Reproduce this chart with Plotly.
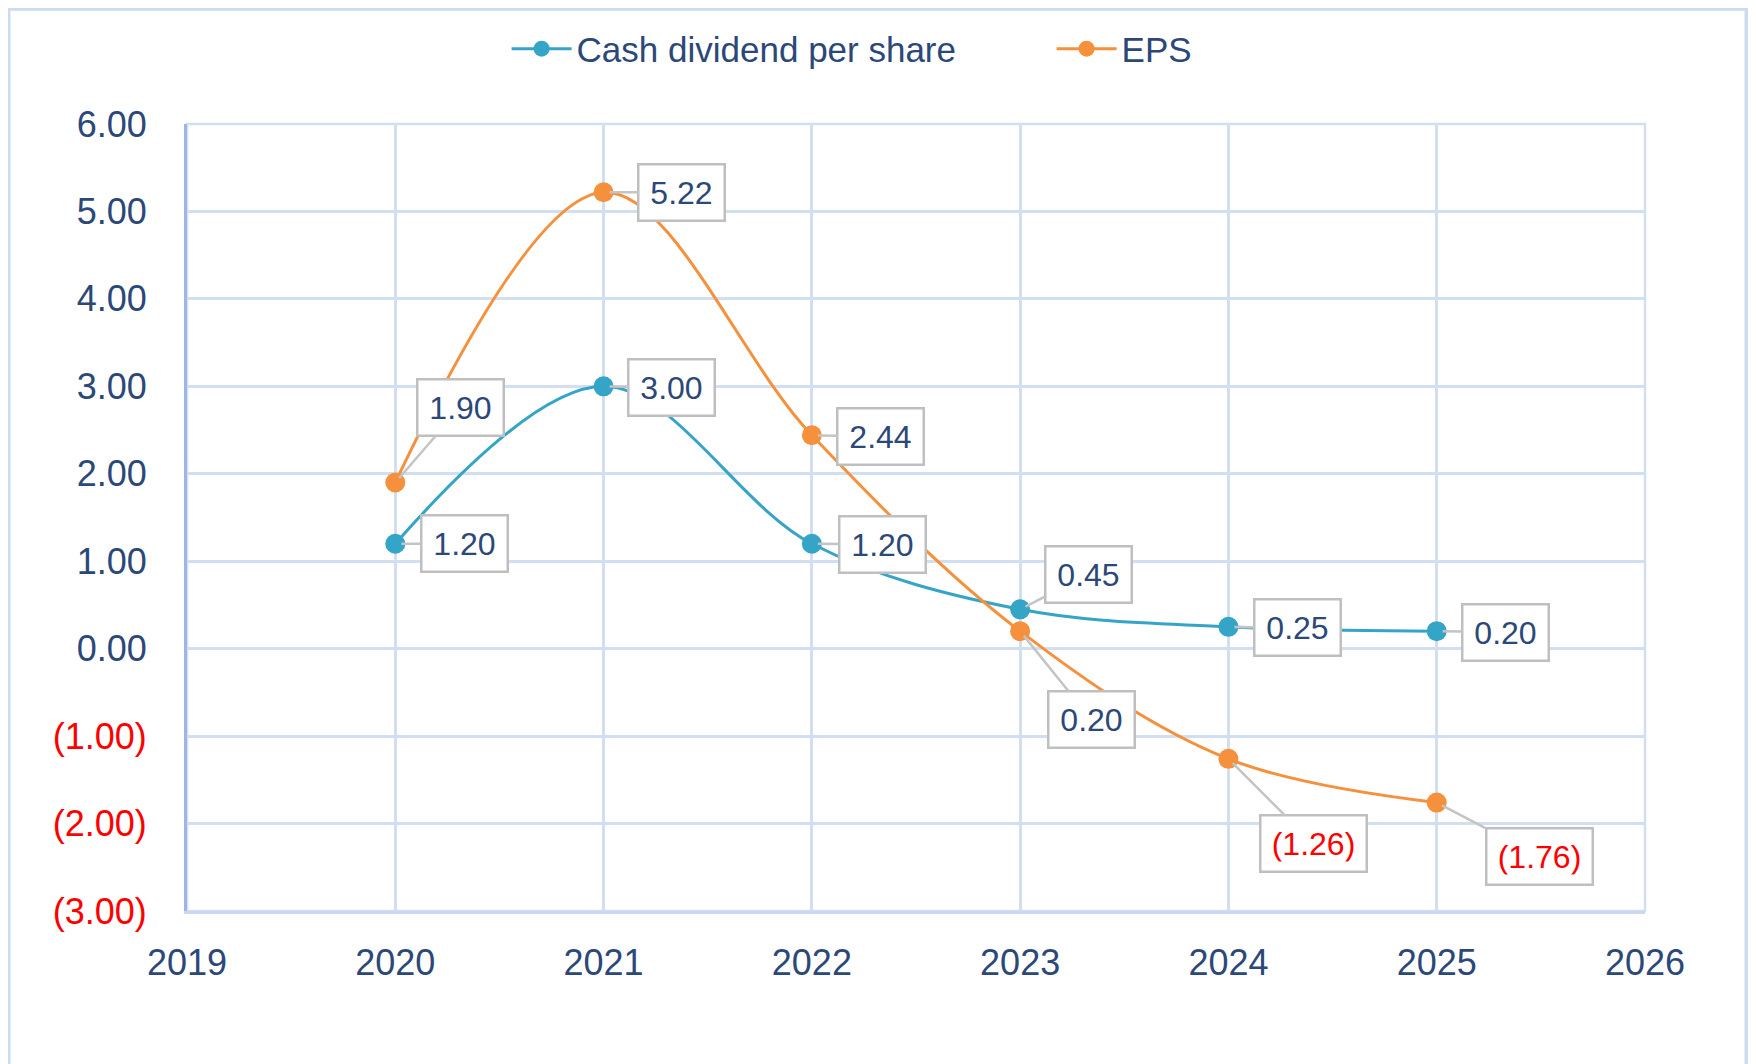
import plotly.graph_objects as go

years = [2020, 2021, 2022, 2023, 2024, 2025]
dividend = [1.20, 3.00, 1.20, 0.45, 0.25, 0.20]
eps = [1.90, 5.22, 2.44, 0.20, -1.26, -1.76]

y_ticks = [6, 5, 4, 3, 2, 1, 0, -1, -2, -3]
x_ticks = [2019, 2020, 2021, 2022, 2023, 2024, 2025, 2026]

# label offsets (pixels) from point to label box center
div_offsets = [(69, 0), (68, 1), (71, 1), (68, -35), (69, 1), (69, 1)]
eps_offsets = [(65, -75), (78, 0), (69, 1), (71, 88), (85, 85), (103, 54)]

TEXT = "#2B4878"
RED = "#FF0000"
TEAL = "#34A4C7"
ORANGE = "#F5913D"
GRID = "#D2DFF3"
FONT = "Liberation Sans, Arial, sans-serif"


def fmt(v):
    return f"({abs(v):.2f})" if v < 0 else f"{v:.2f}"


fig = go.Figure()
fig.add_trace(go.Scatter(
    x=years, y=dividend, name="Cash dividend per share", mode="lines+markers",
    line=dict(color=TEAL, width=3, shape="spline", smoothing=1.0),
    marker=dict(size=20, color=TEAL)))
fig.add_trace(go.Scatter(
    x=years, y=eps, name="EPS", mode="lines+markers",
    line=dict(color=ORANGE, width=3, shape="spline", smoothing=1.0),
    marker=dict(size=20, color=ORANGE)))

for series, offs in ((dividend, div_offsets), (eps, eps_offsets)):
    for x, v, (ax, ay) in zip(years, series, offs):
        fig.add_annotation(
            x=x, y=v, text=fmt(v), showarrow=True, arrowhead=0,
            arrowwidth=2.5, arrowcolor="#C4C4C4", ax=ax, ay=ay,
            bgcolor="white", bordercolor="#BFBFBF", borderwidth=2.5,
            borderpad=9, standoff=6, width=86 if v < 0 else 66,
            font=dict(size=32, color=RED if v < 0 else TEXT, family=FONT))

ticktext = [f"<span style='color:{RED}'>{fmt(t)}</span>" if t < 0 else fmt(t) for t in y_ticks]

fig.update_layout(
    width=1756, height=1064,
    margin=dict(l=179, r=119, t=115, b=161),
    paper_bgcolor="white", plot_bgcolor="white",
    font=dict(family=FONT, size=35, color=TEXT),
    showlegend=True,
    legend=dict(orientation="h", x=0.593, xanchor="center", y=1.094, yanchor="middle",
                yref="paper", font=dict(size=35, color=TEXT), itemwidth=60,
                entrywidth=470, bgcolor="rgba(0,0,0,0)"),
    xaxis=dict(range=[2019, 2026], tickvals=x_ticks, ticktext=[str(t) for t in x_ticks],
               showgrid=True, gridcolor=GRID, gridwidth=2.5, zeroline=False,
               showline=True, linecolor="#C9D8F0", linewidth=3, mirror=False,
               ticks="", ticklabelstandoff=18, tickfont=dict(size=36, color=TEXT)),
    yaxis=dict(range=[-3, 6], tickvals=y_ticks, ticktext=ticktext,
               showgrid=True, gridcolor=GRID, gridwidth=2.5, zeroline=False,
               showline=True, linecolor="#9DB6E2", linewidth=3,
               ticks="", ticklabelstandoff=30, tickfont=dict(size=36, color=TEXT)),
    shapes=[dict(type="rect", xref="paper", yref="paper", x0=0, x1=1, y0=0, y1=1,
                 line=dict(color=GRID, width=2.5), layer="below"),
            dict(type="rect", xref="paper", yref="paper",
                 x0=-179 / 1458, x1=1560 / 1458, y0=-160 / 788, y1=1 + 116 / 788,
                 line=dict(color="#CCDBF0", width=5), layer="below")],
)

fig.write_html("out.html")
